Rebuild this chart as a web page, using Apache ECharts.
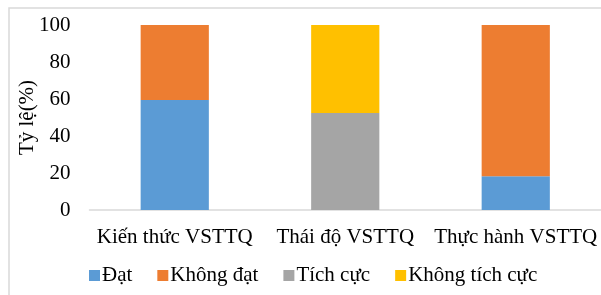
<!DOCTYPE html>
<html>
<head>
<meta charset="utf-8">
<script src="https://cdn.jsdelivr.net/npm/echarts@6/dist/echarts.min.js"></script>
<style>
  html, body { margin: 0; padding: 0; background: #fff; }
  #chart { width: 601px; height: 295px; }
</style>
</head>
<body>
<div id="chart"></div>
<script>
// chart data
const categories = ['Kiến thức VSTTQ', 'Thái độ VSTTQ', 'Thực hành VSTTQ'];
const datValues = [59.5, null, 18.3];
const khongDatValues = [40.5, null, 81.7];
const tichCucValues = [null, 52.5, null];
const khongTichCucValues = [null, 47.5, null];
const yTicks = [0, 20, 40, 60, 80, 100];

let chartDom = document.getElementById('chart');
let myChart = echarts.init(chartDom);

const fontFamily = '"Liberation Serif", "Times New Roman", serif';

function barSeries(name, data, color) {
    return {
        name: name,
        type: 'bar',
        stack: 'total',
        barWidth: '40%',
        data: data,
        itemStyle: { color: color },
        emphasis: { disabled: true }
    };
}

let option = {
    animation: false,
    textStyle: { fontFamily: fontFamily, color: '#000' },
    graphic: [{
        type: 'rect',
        shape: { x: 9, y: 8, width: 600, height: 300 },
        style: { fill: 'none', stroke: '#d9d9d9', lineWidth: 1.5 },
        silent: true
    }],
    grid: {
        left: 89.5,
        right: -3,
        top: 25,
        bottom: 85,
        containLabel: false
    },
    legend: {
        top: 260,
        left: 84,
        itemWidth: 11,
        itemHeight: 11,
        itemGap: 25,
        icon: 'rect',
        textStyle: { fontFamily: fontFamily, fontSize: 21, color: '#000', padding: [0, 0, 0, -3] },
        data: ['Đạt', 'Không đạt', 'Tích cực', 'Không tích cực']
    },
    xAxis: {
        type: 'category',
        data: categories,
        axisLine: { lineStyle: { color: '#d9d9d9', width: 1.5 } },
        axisTick: { show: false },
        axisLabel: { interval: 0, fontFamily: fontFamily, fontSize: 21, color: '#000', margin: 17 }
    },
    yAxis: {
        type: 'value',
        min: yTicks[0],
        max: yTicks[yTicks.length - 1],
        interval: 20,
        name: 'Tỷ lệ(%)',
        nameLocation: 'middle',
        nameGap: 52,
        nameMoveOverlap: false,
        nameRotate: 90,
        nameTextStyle: { fontFamily: fontFamily, fontSize: 21, color: '#000' },
        axisLine: { show: false },
        axisTick: { show: false },
        splitLine: { show: false },
        axisLabel: { fontFamily: fontFamily, fontSize: 21, color: '#000', margin: 19 }
    },
    series: [
        barSeries('Đạt', datValues, '#5B9BD5'),
        barSeries('Không đạt', khongDatValues, '#ED7D31'),
        barSeries('Tích cực', tichCucValues, '#A5A5A5'),
        barSeries('Không tích cực', khongTichCucValues, '#FFC000')
    ]
};

option && myChart.setOption(option);
</script>
</body>
</html>
